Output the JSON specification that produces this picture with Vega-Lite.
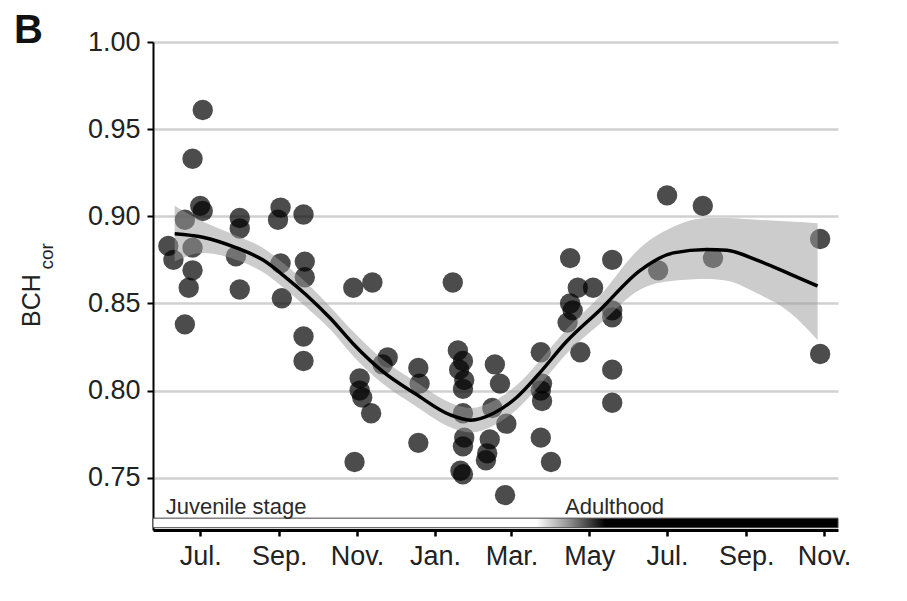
{
  "$schema": "https://vega.github.io/schema/vega-lite/v6.json",
  "width": 685,
  "height": 488,
  "autosize": {"type": "none"},
  "padding": {"left": 153, "top": 42, "right": 69, "bottom": 71},
  "background": "white",
  "config": {"view": {"stroke": null}, "font": "Liberation Sans"},
  "title": {"text": "B", "anchor": "start", "frame": "group", "fontSize": 40, "fontWeight": "bold", "font": "Liberation Sans", "color": "#111111", "baseline": "alphabetic", "offset": 0, "dx": -139, "dy": 55},
  "datasets": {
    "points": [
      {"date": "2015-06-06", "bch": 0.883},
      {"date": "2015-06-10", "bch": 0.875},
      {"date": "2015-06-19", "bch": 0.898},
      {"date": "2015-06-25", "bch": 0.882},
      {"date": "2015-06-25", "bch": 0.869},
      {"date": "2015-06-22", "bch": 0.859},
      {"date": "2015-06-19", "bch": 0.838},
      {"date": "2015-06-25", "bch": 0.933},
      {"date": "2015-07-03", "bch": 0.961},
      {"date": "2015-07-01", "bch": 0.906},
      {"date": "2015-07-03", "bch": 0.903},
      {"date": "2015-08-01", "bch": 0.899},
      {"date": "2015-08-01", "bch": 0.893},
      {"date": "2015-07-29", "bch": 0.877},
      {"date": "2015-08-01", "bch": 0.858},
      {"date": "2015-09-02", "bch": 0.905},
      {"date": "2015-08-31", "bch": 0.898},
      {"date": "2015-09-02", "bch": 0.873},
      {"date": "2015-09-03", "bch": 0.853},
      {"date": "2015-09-20", "bch": 0.901},
      {"date": "2015-09-21", "bch": 0.874},
      {"date": "2015-09-21", "bch": 0.865},
      {"date": "2015-09-20", "bch": 0.831},
      {"date": "2015-09-20", "bch": 0.817},
      {"date": "2015-10-29", "bch": 0.859},
      {"date": "2015-11-13", "bch": 0.862},
      {"date": "2015-11-03", "bch": 0.807},
      {"date": "2015-11-03", "bch": 0.800},
      {"date": "2015-11-05", "bch": 0.796},
      {"date": "2015-11-12", "bch": 0.787},
      {"date": "2015-10-30", "bch": 0.759},
      {"date": "2015-11-25", "bch": 0.819},
      {"date": "2015-11-21", "bch": 0.815},
      {"date": "2015-12-19", "bch": 0.813},
      {"date": "2015-12-20", "bch": 0.804},
      {"date": "2015-12-19", "bch": 0.770},
      {"date": "2016-01-15", "bch": 0.862},
      {"date": "2016-01-19", "bch": 0.823},
      {"date": "2016-01-23", "bch": 0.817},
      {"date": "2016-01-20", "bch": 0.812},
      {"date": "2016-01-24", "bch": 0.806},
      {"date": "2016-01-23", "bch": 0.801},
      {"date": "2016-01-23", "bch": 0.787},
      {"date": "2016-01-24", "bch": 0.773},
      {"date": "2016-01-23", "bch": 0.768},
      {"date": "2016-01-21", "bch": 0.754},
      {"date": "2016-01-23", "bch": 0.752},
      {"date": "2016-02-17", "bch": 0.815},
      {"date": "2016-02-21", "bch": 0.804},
      {"date": "2016-02-15", "bch": 0.790},
      {"date": "2016-02-26", "bch": 0.781},
      {"date": "2016-02-13", "bch": 0.772},
      {"date": "2016-02-11", "bch": 0.764},
      {"date": "2016-02-10", "bch": 0.760},
      {"date": "2016-02-25", "bch": 0.740},
      {"date": "2016-03-24", "bch": 0.822},
      {"date": "2016-03-25", "bch": 0.804},
      {"date": "2016-03-24", "bch": 0.800},
      {"date": "2016-03-25", "bch": 0.794},
      {"date": "2016-03-24", "bch": 0.773},
      {"date": "2016-04-01", "bch": 0.759},
      {"date": "2016-04-16", "bch": 0.876},
      {"date": "2016-04-22", "bch": 0.859},
      {"date": "2016-05-04", "bch": 0.859},
      {"date": "2016-04-16", "bch": 0.850},
      {"date": "2016-04-18", "bch": 0.846},
      {"date": "2016-04-14", "bch": 0.839},
      {"date": "2016-04-24", "bch": 0.822},
      {"date": "2016-05-19", "bch": 0.875},
      {"date": "2016-05-19", "bch": 0.846},
      {"date": "2016-05-19", "bch": 0.842},
      {"date": "2016-05-19", "bch": 0.812},
      {"date": "2016-05-19", "bch": 0.793},
      {"date": "2016-06-24", "bch": 0.869},
      {"date": "2016-07-01", "bch": 0.912},
      {"date": "2016-07-29", "bch": 0.906},
      {"date": "2016-08-06", "bch": 0.876},
      {"date": "2016-10-29", "bch": 0.887},
      {"date": "2016-10-29", "bch": 0.821}
    ],
    "fit": [
      {"date": "2015-06-11", "fit": 0.890, "lo": 0.874, "hi": 0.906},
      {"date": "2015-07-03", "fit": 0.888, "lo": 0.879, "hi": 0.897},
      {"date": "2015-07-29", "fit": 0.882, "lo": 0.875, "hi": 0.889},
      {"date": "2015-08-19", "fit": 0.875, "lo": 0.868, "hi": 0.882},
      {"date": "2015-09-06", "fit": 0.865, "lo": 0.858, "hi": 0.872},
      {"date": "2015-09-22", "fit": 0.855, "lo": 0.848, "hi": 0.862},
      {"date": "2015-10-11", "fit": 0.8415, "lo": 0.835, "hi": 0.848},
      {"date": "2015-10-30", "fit": 0.826, "lo": 0.819, "hi": 0.833},
      {"date": "2015-11-21", "fit": 0.811, "lo": 0.804, "hi": 0.818},
      {"date": "2015-12-17", "fit": 0.798, "lo": 0.791, "hi": 0.805},
      {"date": "2016-01-13", "fit": 0.786, "lo": 0.779, "hi": 0.793},
      {"date": "2016-01-29", "fit": 0.783, "lo": 0.776, "hi": 0.790},
      {"date": "2016-02-16", "fit": 0.787, "lo": 0.780, "hi": 0.794},
      {"date": "2016-03-05", "fit": 0.796, "lo": 0.789, "hi": 0.803},
      {"date": "2016-03-23", "fit": 0.810, "lo": 0.803, "hi": 0.817},
      {"date": "2016-04-13", "fit": 0.828, "lo": 0.821, "hi": 0.835},
      {"date": "2016-05-09", "fit": 0.846, "lo": 0.838, "hi": 0.854},
      {"date": "2016-06-10", "fit": 0.869, "lo": 0.858, "hi": 0.882},
      {"date": "2016-07-06", "fit": 0.879, "lo": 0.863, "hi": 0.894},
      {"date": "2016-08-01", "fit": 0.881, "lo": 0.864, "hi": 0.899},
      {"date": "2016-08-17", "fit": 0.8805, "lo": 0.863, "hi": 0.899},
      {"date": "2016-09-09", "fit": 0.875, "lo": 0.856, "hi": 0.898},
      {"date": "2016-10-05", "fit": 0.867, "lo": 0.845, "hi": 0.897},
      {"date": "2016-10-27", "fit": 0.860, "lo": 0.829, "hi": 0.896}
    ],
    "stageBar": [
      {"from": "2015-05-25", "to": "2016-11-12", "low": 0.7213, "high": 0.7268}
    ],
    "stageLabels": [
      {"stage": "Juvenile stage", "date": "2015-06-04", "bch": 0.7292},
      {"stage": "Adulthood", "date": "2016-04-12", "bch": 0.7292}
    ],
    "unit": [{}]
  },
  "layer": [
    {
      "data": {"name": "points"},
      "mark": {"type": "circle", "size": 415, "color": "#000000", "opacity": 0.7},
      "encoding": {
        "x": {
          "field": "date", "type": "temporal",
          "scale": {"type": "utc", "domain": [{"year": 2015, "month": 5, "date": 25, "utc": true}, {"year": 2016, "month": 11, "date": 12, "utc": true}]},
          "axis": {
            "values": [
              {"year": 2015, "month": 7, "date": 1, "utc": true},
              {"year": 2015, "month": 9, "date": 1, "utc": true},
              {"year": 2015, "month": 11, "date": 1, "utc": true},
              {"year": 2016, "month": 1, "date": 1, "utc": true},
              {"year": 2016, "month": 3, "date": 1, "utc": true},
              {"year": 2016, "month": 5, "date": 1, "utc": true},
              {"year": 2016, "month": 7, "date": 1, "utc": true},
              {"year": 2016, "month": 9, "date": 1, "utc": true},
              {"year": 2016, "month": 11, "date": 1, "utc": true}
            ],
            "labelExpr": "utcFormat(datum.value, '%b') == 'May' ? 'May' : utcFormat(datum.value, '%b') + '.'",
            "title": "",
            "grid": false,
            "labelFontSize": 27,
            "labelFont": "Liberation Sans",
            "labelColor": "#222222",
            "labelPadding": 7,
            "labelFlush": false,
            "labelOverlap": false,
            "tickSize": 6,
            "tickWidth": 2.5,
            "tickColor": "#000000",
            "domainColor": "#000000",
            "domainWidth": 3
          }
        },
        "y": {
          "field": "bch", "type": "quantitative",
          "scale": {"domain": [0.72, 1.0], "nice": false, "zero": false},
          "axis": {
            "values": [0.75, 0.8, 0.85, 0.9, 0.95, 1.0],
            "format": ".2f",
            "title": "BCH",
            "titleFont": "Liberation Sans",
            "titleFontSize": 25,
            "titleFontWeight": "normal",
            "titleColor": "#222222",
            "titleAngle": 270,
            "titleAlign": "center",
            "titleBaseline": "middle",
            "titleX": -122,
            "titleY": 258,
            "labelFontSize": 27,
            "labelFont": "Liberation Sans",
            "labelColor": "#222222",
            "labelPadding": 7,
            "tickSize": 6,
            "tickWidth": 2,
            "tickColor": "#000000",
            "domainColor": "#000000",
            "domainWidth": 2,
            "grid": true,
            "gridColor": "#d0d0d0",
            "gridWidth": 2.5
          }
        }
      }
    },
    {
      "data": {"name": "fit"},
      "mark": {"type": "area", "color": "#999999", "opacity": 0.5, "interpolate": "monotone"},
      "encoding": {
        "x": {"field": "date", "type": "temporal"},
        "y": {"field": "lo", "type": "quantitative"},
        "y2": {"field": "hi"}
      }
    },
    {
      "data": {"name": "fit"},
      "mark": {"type": "line", "color": "#000000", "strokeWidth": 3.5, "interpolate": "monotone"},
      "encoding": {
        "x": {"field": "date", "type": "temporal"},
        "y": {"field": "fit", "type": "quantitative"}
      }
    },
    {
      "data": {"name": "stageBar"},
      "mark": {
        "type": "rect",
        "fill": {"gradient": "linear", "x1": 0, "y1": 0, "x2": 1, "y2": 0,
          "stops": [
            {"offset": 0, "color": "#ffffff"},
            {"offset": 0.56, "color": "#ffffff"},
            {"offset": 0.61, "color": "#8a8a8a"},
            {"offset": 0.66, "color": "#000000"},
            {"offset": 1, "color": "#000000"}
          ]},
        "stroke": "#444444",
        "strokeWidth": 1
      },
      "encoding": {
        "x": {"field": "from", "type": "temporal"},
        "x2": {"field": "to"},
        "y": {"field": "low", "type": "quantitative"},
        "y2": {"field": "high"}
      }
    },
    {
      "data": {"name": "stageLabels"},
      "mark": {"type": "text", "align": "left", "baseline": "alphabetic", "fontSize": 22, "font": "Liberation Sans", "color": "#2a2a2a"},
      "encoding": {
        "x": {"field": "date", "type": "temporal"},
        "y": {"field": "bch", "type": "quantitative"},
        "text": {"field": "stage"}
      }
    },
    {
      "data": {"name": "unit"},
      "mark": {"type": "text", "text": "cor", "angle": 270, "align": "center", "baseline": "middle", "fontSize": 19, "font": "Liberation Sans", "color": "#222222"},
      "encoding": {
        "x": {"datum": {"year": 2015, "month": 3, "date": 3, "utc": true}, "type": "temporal"},
        "y": {"datum": 0.877, "type": "quantitative"}
      }
    }
  ]
}
